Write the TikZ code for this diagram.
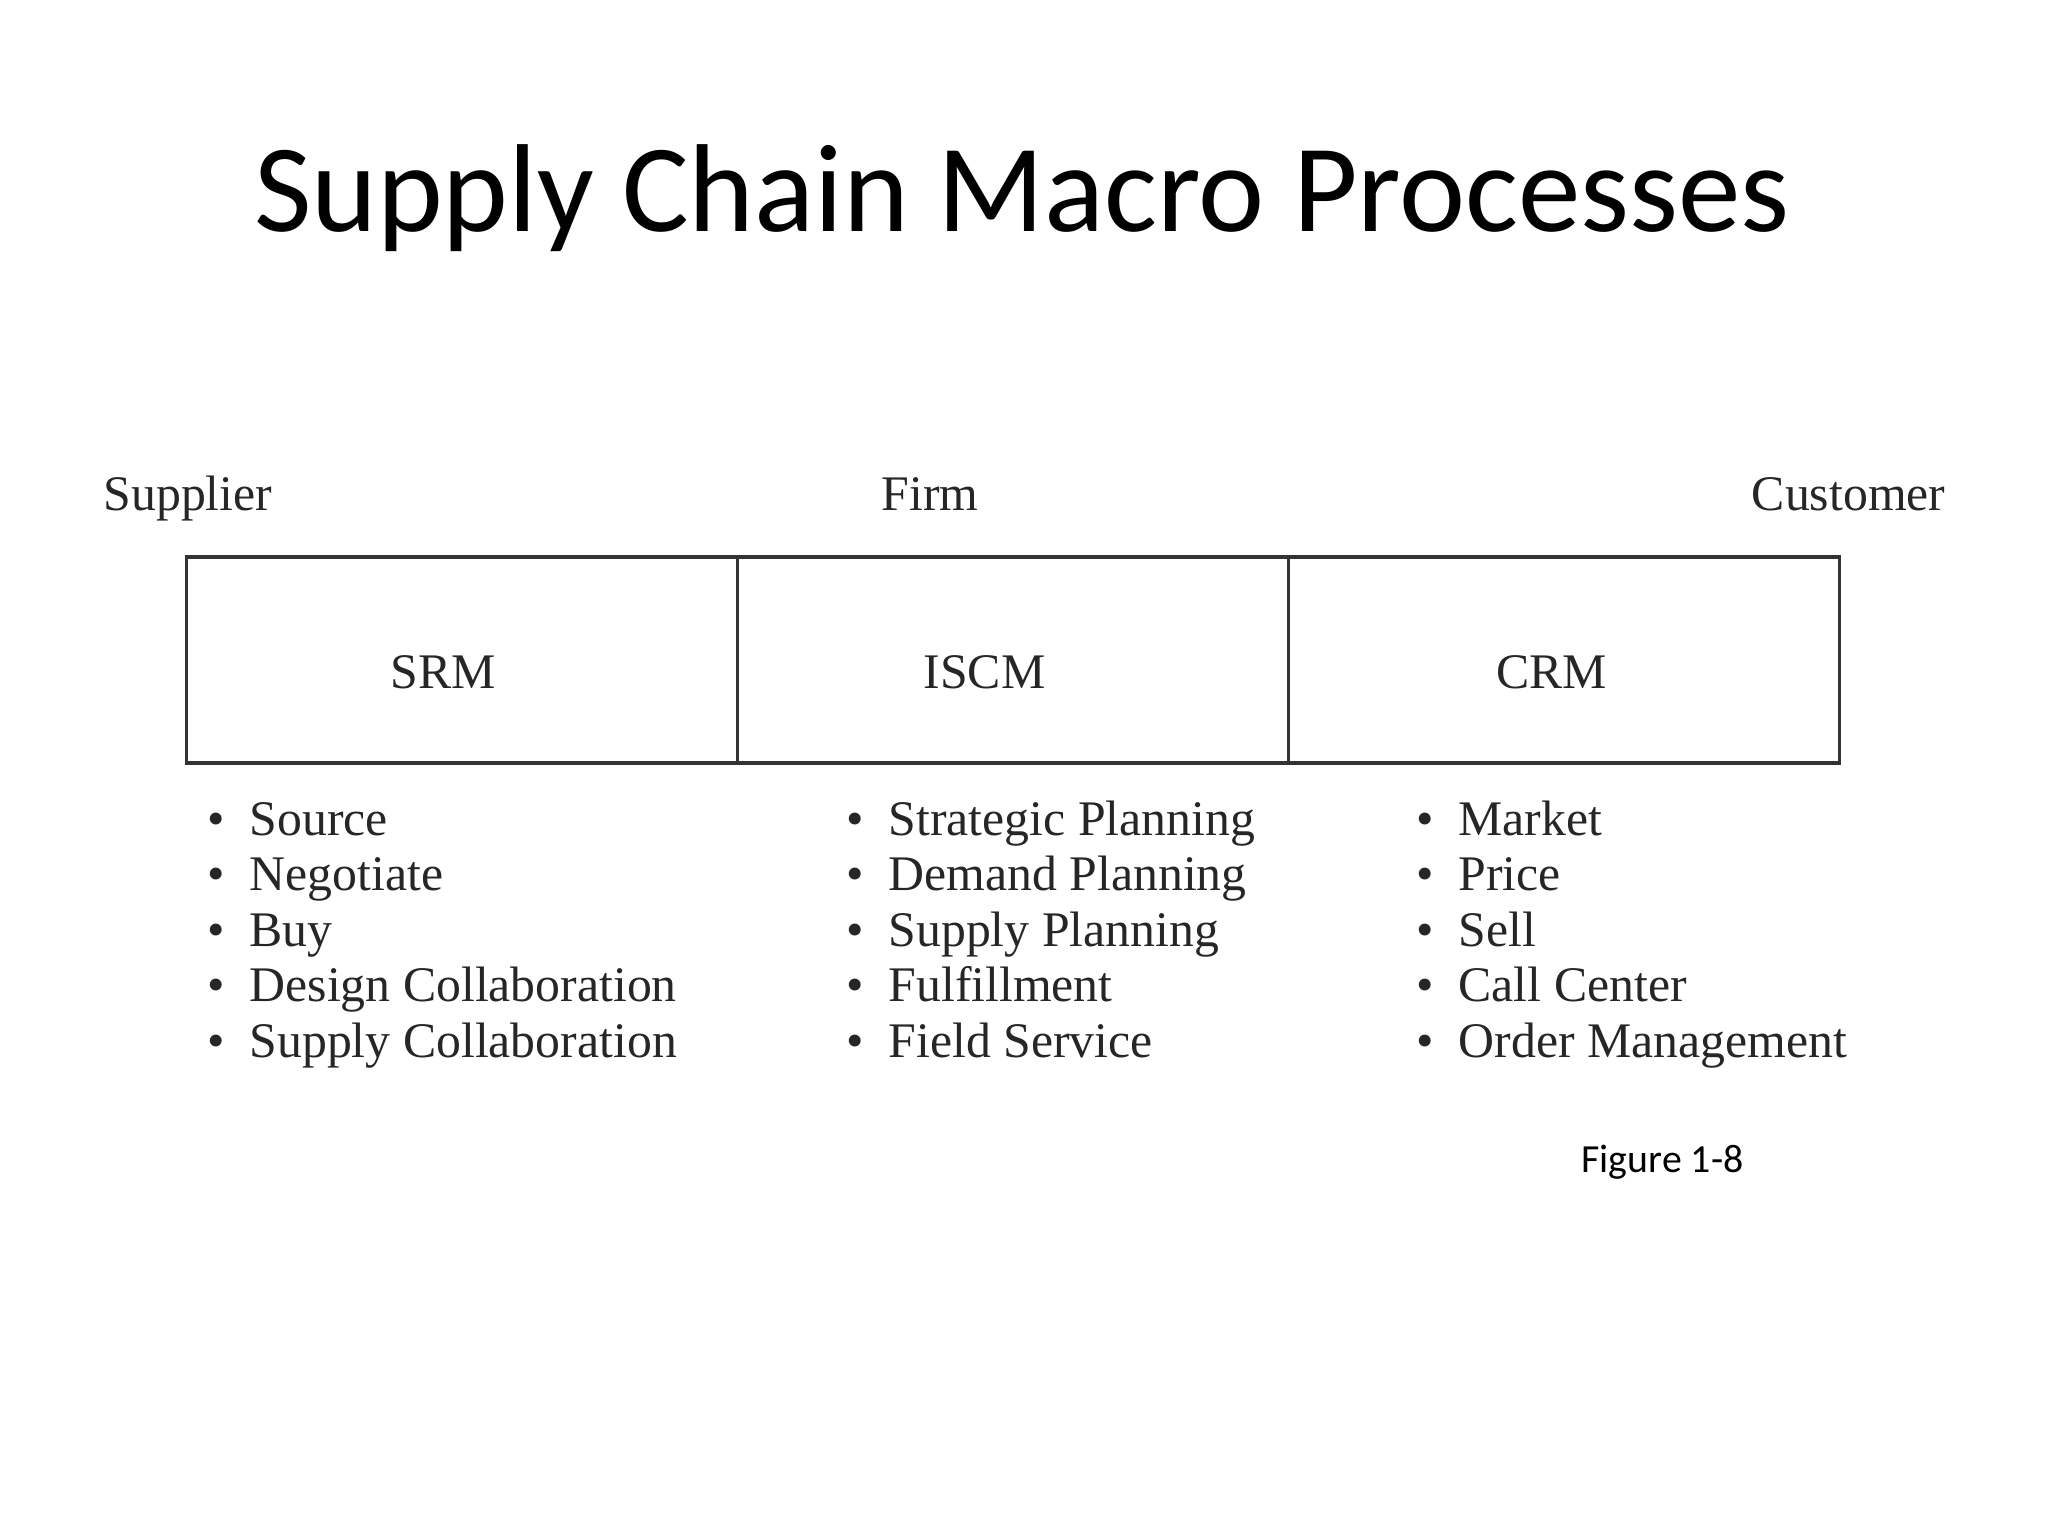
\documentclass[tikz,border=0pt]{standalone}
\usepackage{fontspec}
\setmainfont{Liberation Serif}
\newfontfamily\calfont{Carlito}
\begin{document}
\begin{tikzpicture}[x=0.3516pt, y=-0.3516pt,
  cell/.style={draw=black!80, line width=1.3pt, rectangle, inner sep=0pt, outer sep=0pt,
               minimum width=193.8pt, minimum height=72.4pt},
  body/.style={font=\fontsize{17.5}{20}\selectfont, text=black!85, inner sep=0pt},
  item/.style={body, anchor=base west},
  title/.style={font=\calfont\fontsize{44}{52}\selectfont, text=black, inner sep=0pt}]
\useasboundingbox (0,0) rectangle (2048,1536);

\node[title, anchor=base] (title) at (1022,231) {Supply Chain Macro Processes};

\node[body, anchor=base west] (supplier) at (103,510) {Supplier};
\node[body, anchor=base west] (firm) at (881,510) {Firm};
\node[body, anchor=base east] (customer) at (1946,510) {Customer};

\node[cell] (srmbox) at (462,660) {};
\node[cell] (iscmbox) at (1013,660) {};
\node[cell] (crmbox) at (1564,660) {};

\node[body, anchor=base west] (srm) at (390,688) {SRM};
\node[body, anchor=base west] (iscm) at (923,688) {ISCM};
\node[body, anchor=base west] (crm) at (1496,688) {CRM};

\newcommand{\bul}[1]{\makebox[14.8pt][l]{\textbullet}#1}

\foreach \t [count=\i] in {Source, Negotiate, Buy, Design Collaboration, Supply Collaboration}
  \node[item] (s\i) at (207,{835+55.5*(\i-1)}) {\bul{\t}};
\foreach \t [count=\i] in {Strategic Planning, Demand Planning, Supply Planning, Fulfillment, Field Service}
  \node[item] (f\i) at (846,{835+55.5*(\i-1)}) {\bul{\t}};
\foreach \t [count=\i] in {Market, Price, Sell, Call Center, Order Management}
  \node[item] (c\i) at (1416,{835+55.5*(\i-1)}) {\bul{\t}};

\node[font=\calfont\fontsize{14}{17}\selectfont, anchor=base west, inner sep=0pt] (fig) at (1581,1172) {Figure 1-8};
\end{tikzpicture}
\end{document}
